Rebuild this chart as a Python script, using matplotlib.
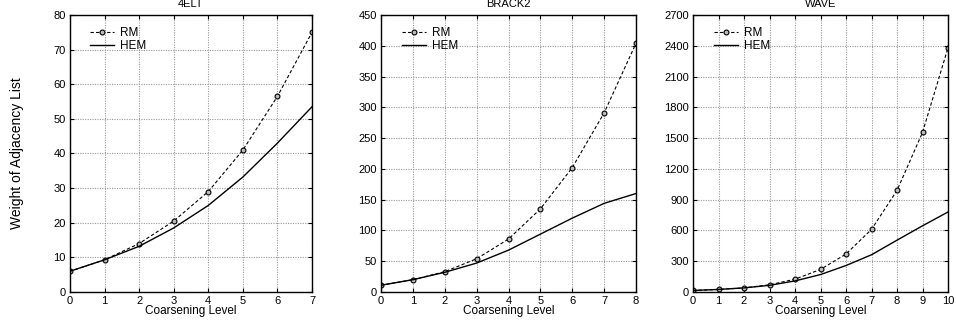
import matplotlib
matplotlib.use("Agg")
import matplotlib.pyplot as plt

titles = ["4ELT", "BRACK2", "WAVE"]
elt_rm = [6, 9.3, 14, 20.5, 29, 41, 56.5, 75]
elt_hem = [6, 9.3, 13.2, 18.5, 25, 33.2, 43, 53.5]
brack_rm = [11, 20, 33, 54, 86, 135, 202, 291, 404]
brack_hem = [11, 20, 32, 47, 68, 94, 120, 144, 160]
wave_rm = [15, 25, 40, 70, 125, 220, 370, 610, 990, 1555, 2380]
wave_hem = [15, 25, 40, 65, 108, 170, 258, 363, 505, 645, 780]
ymaxes = [80, 450, 2700]
ysteps = [10, 50, 300]

plt.rcParams['font.family'] = ['Liberation Sans', 'DejaVu Sans']
fig = plt.figure(figsize=(9.56, 3.32), dpi=100)
W, H = 956, 332
boxes = [(70, 312), (381, 636), (693, 948)]
top, bottom = 15, 292
data = [(elt_rm, elt_hem), (brack_rm, brack_hem), (wave_rm, wave_hem)]

for i, ((l, r), (rm, hem)) in enumerate(zip(boxes, data)):
    ax = fig.add_axes([l / W, 1 - bottom / H, (r - l) / W, (bottom - top) / H])
    x = list(range(len(rm)))
    ax.plot(x, rm, linestyle=(0, (3, 2)), color='black', lw=0.8,
            marker='o', ms=3.5, mfc='#bbbbbb', mec='black', mew=0.8, label='RM')
    ax.plot(x, hem, '-', color='black', lw=1.0, label='HEM')
    ax.set_xlim(0, len(rm) - 1)
    ax.set_ylim(0, ymaxes[i])
    ax.set_xticks(x)
    ax.set_yticks(range(0, ymaxes[i] + 1, ysteps[i]))
    ax.grid(True, linestyle=(0, (1, 1.2)), color='#999999', lw=0.8)
    ax.tick_params(direction='in', labelsize=8, length=3, top=True, right=True, pad=3)
    for s in ax.spines.values():
        s.set_linewidth(1.0)
    ax.set_title(titles[i], fontsize=8, pad=5.5)
    ax.set_xlabel('Coarsening Level', fontsize=8.5, labelpad=-1)
    if i == 0:
        ax.set_ylabel('Weight of Adjacency List', fontsize=10, labelpad=21)
    ax.legend(loc='upper left', frameon=False, fontsize=8.5, handlelength=2.0,
              handletextpad=0.5, borderaxespad=0.3, labelspacing=0.05,
              bbox_to_anchor=(0.05, 0.985))

fig.savefig('out.png', dpi=100)
